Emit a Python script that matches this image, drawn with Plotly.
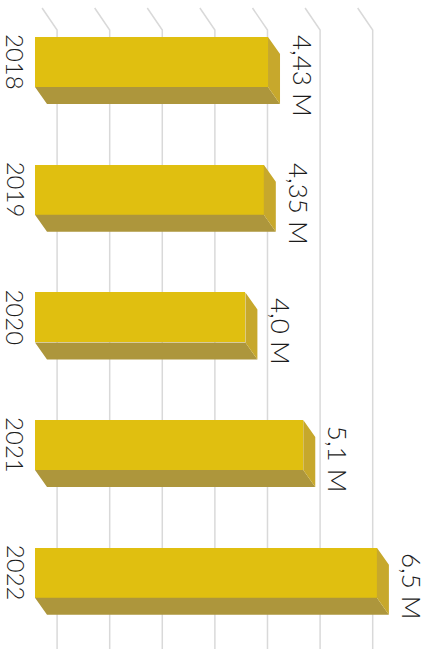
import plotly.graph_objects as go

years = ["2018", "2019", "2020", "2021", "2022"]
values = [4.43, 4.35, 4.0, 5.1, 6.5]
value_labels = ["4,43 M", "4,35 M", "4,0 M", "5,1 M", "6,5 M"]

W, H = 428, 649
PX_PER_UNIT = 52.6      # horizontal pixels per million
ROW_PX = 127.7          # vertical pixels per category
X0_PX, Y0_PX = 35, 62   # pixel of value 0 / first bar center

x_range = [-X0_PX / PX_PER_UNIT, (W - X0_PX) / PX_PER_UNIT]
y_range = [(H - Y0_PX) / ROW_PX, -Y0_PX / ROW_PX]

bar_w = 50 / ROW_PX
dx = 12 / PX_PER_UNIT
dy = 17 / ROW_PX

FRONT = "#E0BF10"
SIDE = "#C7A82C"
BOTTOM = "#AD963C"
GRID = "#D9D9D9"
TEXT = "#1c1c1c"
FONT = "Lato"

pos = list(range(len(years)))

fig = go.Figure()

# bottom faces (3d depth)
bx, by = [], []
for i, v in zip(pos, values):
    yb = i + bar_w / 2
    bx += [0, v, v + dx, dx, 0, None]
    by += [yb, yb, yb + dy, yb + dy, yb, None]
fig.add_trace(go.Scatter(x=bx, y=by, mode="lines", fill="toself",
                         fillcolor=BOTTOM, line=dict(width=0),
                         hoverinfo="skip", showlegend=False))

# right side faces
sx, sy = [], []
for i, v in zip(pos, values):
    yt = i - bar_w / 2
    yb = i + bar_w / 2
    sx += [v, v + dx, v + dx, v, v, None]
    sy += [yt, yt + dy, yb + dy, yb, yt, None]
fig.add_trace(go.Scatter(x=sx, y=sy, mode="lines", fill="toself",
                         fillcolor=SIDE, line=dict(width=0),
                         hoverinfo="skip", showlegend=False))

# front faces
fig.add_trace(go.Bar(
    x=values, y=pos, orientation="h", width=bar_w,
    marker=dict(color=FRONT, line=dict(width=0)),
    hoverinfo="skip", showlegend=False
))

# gridlines with the slanted floor edge at the top
grid_top = (8 - Y0_PX) / ROW_PX
grid_kink = (30 - Y0_PX) / ROW_PX
slant = 15 / PX_PER_UNIT
for k in range(7):
    g = 0.42 + k
    fig.add_shape(
        type="path",
        path=f"M {g - slant} {grid_top} L {g} {grid_kink} L {g} {y_range[0]}",
        line=dict(color=GRID, width=1.5), layer="below"
    )

# year labels
for i, yr in zip(pos, years):
    fig.add_annotation(
        x=16 / W, xref="paper", y=i, yref="y", text=yr, showarrow=False,
        textangle=90, xanchor="center", yanchor="middle",
        font=dict(family=FONT, size=24, color=TEXT, weight=300)
    )

# value labels
for i, v, lab in zip(pos, values, value_labels):
    fig.add_annotation(
        x=v, y=i, text=lab, showarrow=False, textangle=90,
        xanchor="center", yanchor="middle", xshift=35, yshift=-14,
        font=dict(family=FONT, size=26, color=TEXT, weight=300)
    )

fig.update_layout(
    width=W, height=H,
    margin=dict(l=0, r=0, t=0, b=0),
    paper_bgcolor="white", plot_bgcolor="white",
    xaxis=dict(range=x_range, visible=False, fixedrange=True),
    yaxis=dict(range=y_range, visible=False, fixedrange=True),
    bargap=0,
)

fig.write_html("out.html", config={"displayModeBar": False},
               post_script="document.body.style.margin='0';")
